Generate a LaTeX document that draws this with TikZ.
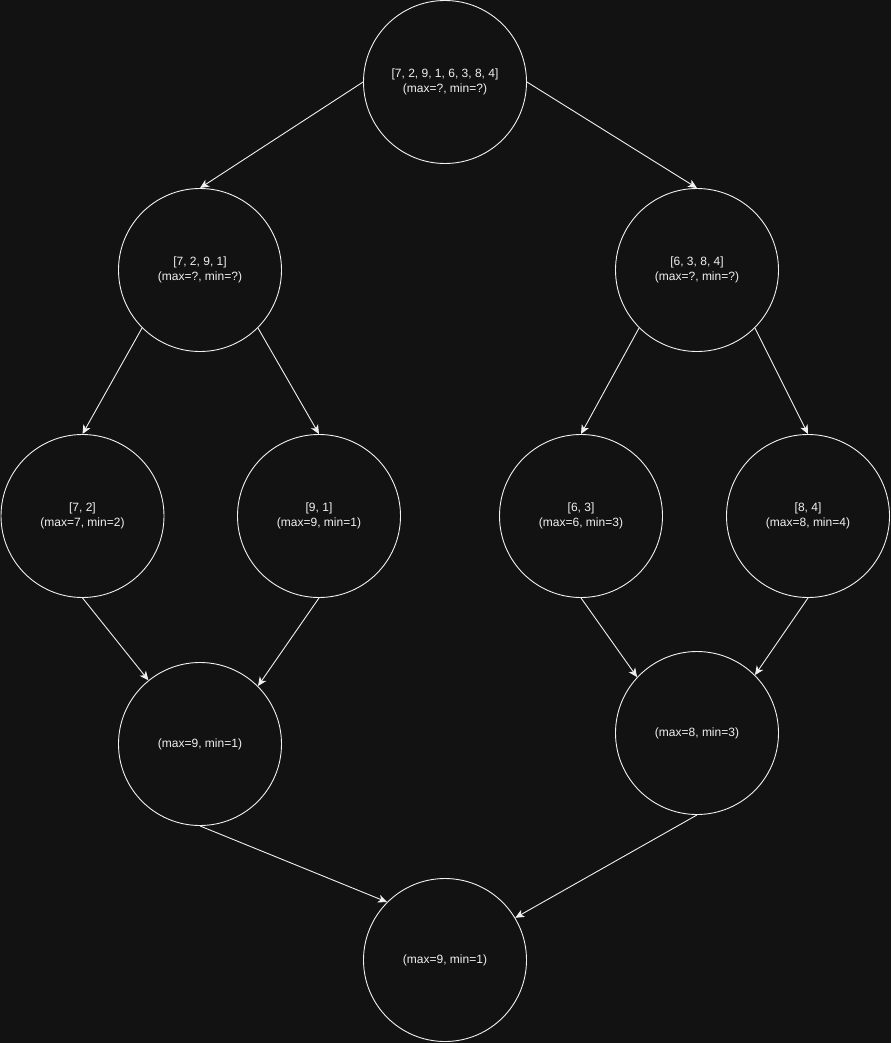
\documentclass[tikz,border=0pt]{standalone}
\usepackage{fontspec}
\setmainfont{Liberation Sans}
\usetikzlibrary{arrows.meta}
\definecolor{bgc}{HTML}{121212}
\definecolor{fgc}{HTML}{F0F0F0}
\begin{document}
\begin{tikzpicture}[x=1pt,y=-1pt,
  circ/.style={circle,draw=fgc,line width=0.9pt,minimum size=163pt,inner sep=0pt,
    text=fgc,align=center,font=\fontsize{12pt}{14.5pt}\selectfont},
  edge/.style={draw=fgc,line width=0.9pt,-{Stealth[length=9pt,width=8pt,inset=2.5pt]}}]
\fill[bgc] (0,0) rectangle (891,1043);
\useasboundingbox (0,0) rectangle (891,1043);
\node[circ] (top) at (445,82) {[7, 2, 9, 1, 6, 3, 8, 4]\\(max=?, min=?)};
\node[circ] (l1) at (200,270) {[7, 2, 9, 1]\\(max=?, min=?)};
\node[circ] (r1) at (697,270) {[6, 3, 8, 4]\\(max=?, min=?)};
\node[circ] (ll) at (82.5,516) {[7, 2]\\(max=7, min=2)};
\node[circ] (lr) at (319,516) {[9, 1]\\(max=9, min=1)};
\node[circ] (rl) at (581,516) {[6, 3]\\(max=6, min=3)};
\node[circ] (rr) at (808,516) {[8, 4]\\(max=8, min=4)};
\node[circ] (ml) at (200,744) {(max=9, min=1)};
\node[circ] (mr) at (697,733) {(max=8, min=3)};
\node[circ] (bot) at (445,960) {(max=9, min=1)};
\draw[edge] (top.west) -- (l1.north);
\draw[edge] (top.east) -- (r1.north);
\draw[edge] (l1.225) -- (ll.north);
\draw[edge] (l1.315) -- (lr.north);
\draw[edge] (r1.225) -- (rl.north);
\draw[edge] (r1.315) -- (rr.north);
\draw[edge] (ll.south) -- (ml.129);
\draw[edge] (lr.south) -- (ml.45);
\draw[edge] (rl.south) -- (mr.137);
\draw[edge] (rr.south) -- (mr.45);
\draw[edge] (ml.south) -- (bot.135);
\draw[edge] (mr.south) -- (bot.31);
\end{tikzpicture}
\end{document}
